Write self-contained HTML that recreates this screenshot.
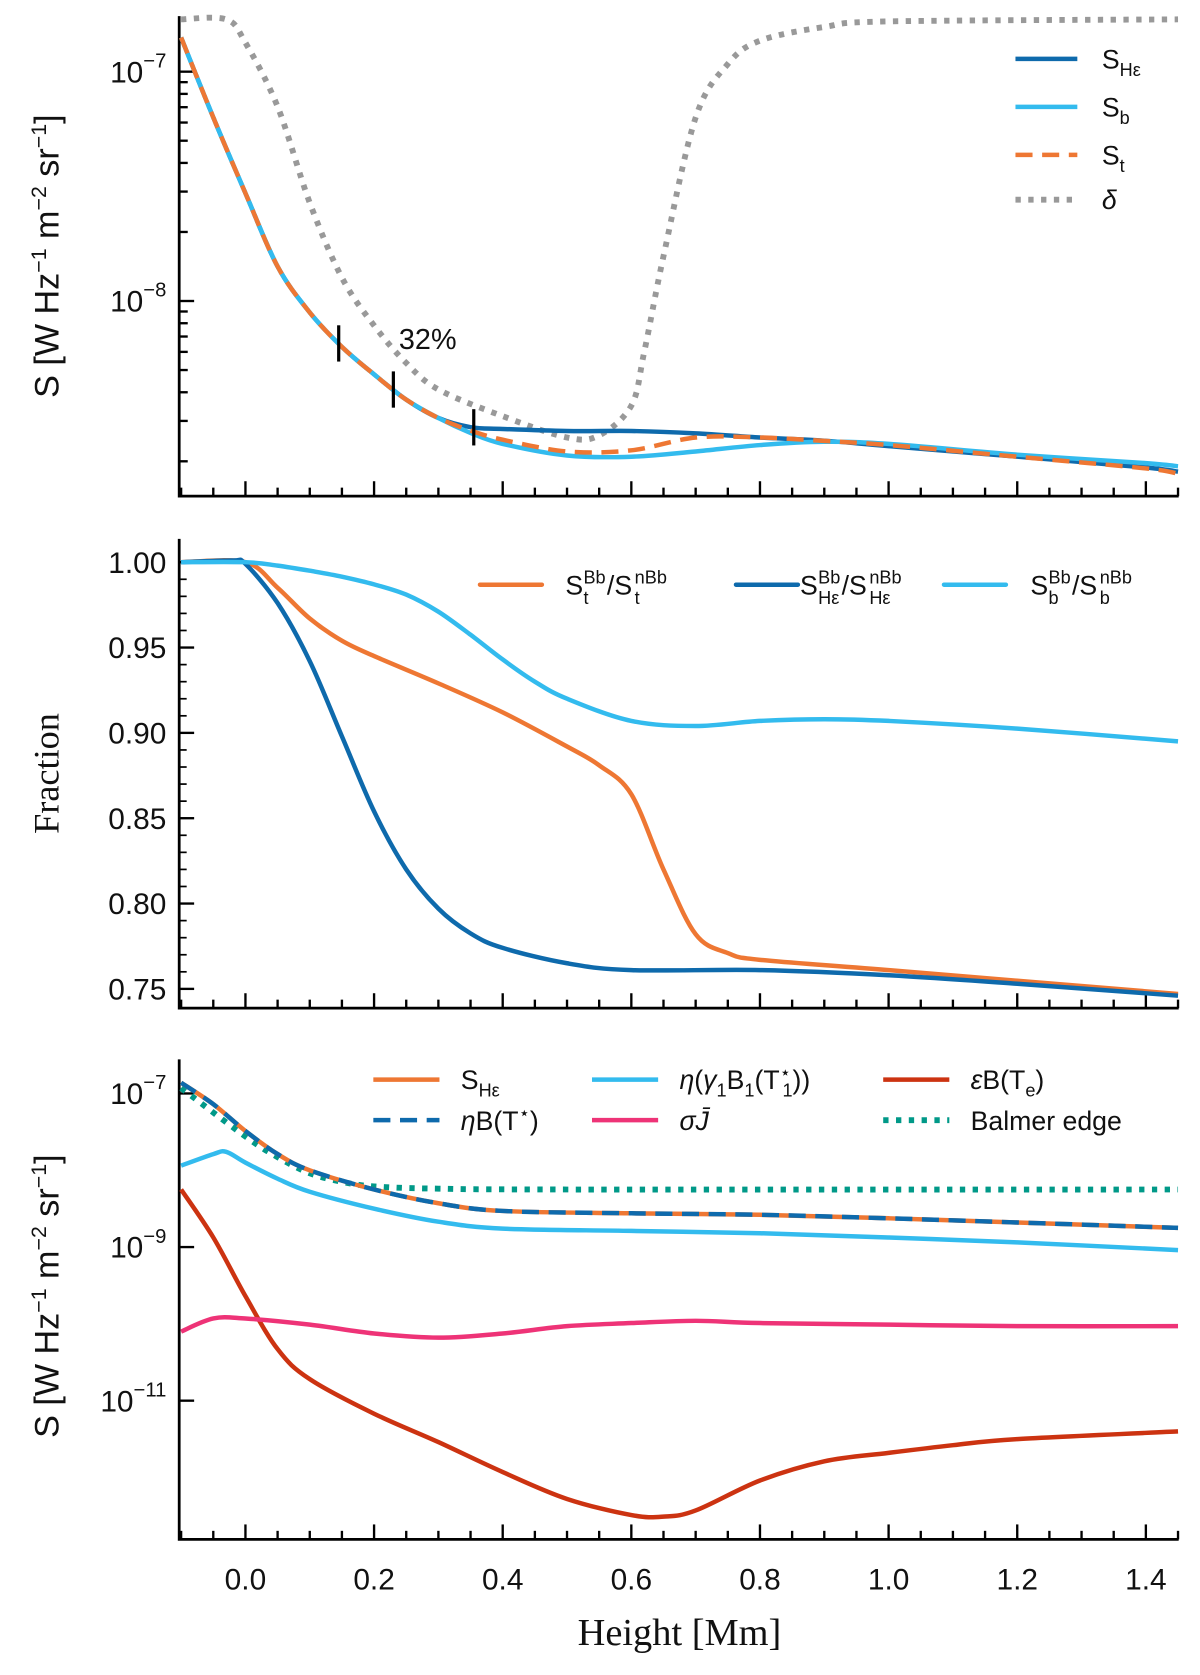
<!DOCTYPE html>
<html><head><meta charset="utf-8"><style>
html,body{margin:0;padding:0;background:#fff}
svg{display:block}
text{font-family:"Liberation Sans","DejaVu Sans",sans-serif;fill:#111}
.serif{font-family:"Liberation Serif","DejaVu Serif",serif}
</style></head><body>
<svg id="fig" width="1200" height="1675" viewBox="0 0 1125 1570" xmlns="http://www.w3.org/2000/svg"></svg>
<script>
// ---------- data ----------
const hP1 = [-0.1,-0.05,0,0.05,0.1,0.15,0.2,0.25,0.3,0.35,0.4,0.5,0.6,0.7,0.8,0.9,1.0,1.2,1.4,1.45];
const sHe1 = [-6.851,-7.2,-7.53,-7.85,-8.05,-8.20,-8.32,-8.43,-8.51,-8.55,-8.558,-8.567,-8.567,-8.577,-8.595,-8.609,-8.633,-8.679,-8.726,-8.744];
const sB1  = [-6.851,-7.2,-7.53,-7.85,-8.05,-8.20,-8.32,-8.43,-8.51,-8.575,-8.623,-8.674,-8.679,-8.656,-8.628,-8.614,-8.623,-8.670,-8.707,-8.721];
const sT1  = [-6.851,-7.2,-7.53,-7.85,-8.05,-8.20,-8.32,-8.43,-8.51,-8.565,-8.605,-8.656,-8.651,-8.595,-8.595,-8.610,-8.628,-8.679,-8.730,-8.753];
const hDelta = [-0.1,-0.03,0,0.05,0.1,0.15,0.2,0.25,0.3,0.4,0.5,0.55,0.6,0.62,0.65,0.7,0.75,0.8,0.9,1.0,1.45];
const delta = [-6.772,-6.772,-6.874,-7.153,-7.572,-7.898,-8.107,-8.270,-8.386,-8.502,-8.595,-8.586,-8.456,-8.223,-7.805,-7.2,-6.967,-6.865,-6.805,-6.781,-6.772];
const markH = [0.145,0.23,0.355];

const hOr = [-0.1,0,0.05,0.1,0.15,0.2,0.3,0.4,0.5,0.55,0.6,0.65,0.7,0.75,0.8,1.0,1.45];
const fracT = [1,1,0.985,0.967,0.954,0.945,0.929,0.912,0.892,0.881,0.864,0.82,0.782,0.771,0.767,0.761,0.747];
const hDb = [-0.1,-0.02,0,0.05,0.1,0.15,0.2,0.25,0.3,0.35,0.4,0.5,0.6,0.8,1.0,1.2,1.45];
const fracHe = [1,1.001,0.999,0.976,0.942,0.898,0.854,0.82,0.797,0.7825,0.774,0.765,0.761,0.761,0.758,0.753,0.746];
const hLb = [-0.1,0,0.05,0.1,0.15,0.2,0.25,0.3,0.35,0.4,0.45,0.5,0.6,0.7,0.8,0.9,1.0,1.2,1.45];
const fracB = [1,1,0.998,0.995,0.9915,0.987,0.981,0.971,0.9575,0.943,0.93,0.92,0.907,0.904,0.907,0.908,0.907,0.9025,0.895];

const hP3 = [-0.1,-0.05,0,0.05,0.1,0.2,0.3,0.4,0.6,0.8,1.0,1.2,1.45];
const sHe3 = [-6.86,-7.14,-7.49,-7.79,-8.0,-8.25,-8.43,-8.53,-8.56,-8.58,-8.625,-8.68,-8.75];
const hBal = [-0.1,0,0.05,0.1,0.15,0.2,0.3,0.5,1.45];
const balmer = [-6.93,-7.56,-7.83,-8.04,-8.15,-8.21,-8.24,-8.25,-8.25];
const hEta = [-0.1,-0.05,-0.03,0,0.05,0.1,0.2,0.3,0.4,0.6,0.8,1.0,1.2,1.45];
const etaG = [-7.94,-7.79,-7.76,-7.90,-8.11,-8.28,-8.5,-8.67,-8.76,-8.79,-8.82,-8.875,-8.94,-9.04];
const hSig = [-0.1,-0.05,0,0.1,0.2,0.3,0.4,0.5,0.6,0.7,0.8,1.0,1.2,1.45];
const sigJ = [-10.10,-9.93,-9.93,-10.01,-10.125,-10.18,-10.125,-10.03,-9.99,-9.96,-9.99,-10.01,-10.03,-10.03];
const hEps = [-0.1,-0.05,0,0.05,0.1,0.2,0.3,0.4,0.5,0.6,0.65,0.7,0.8,0.9,1.0,1.1,1.2,1.45];
const epsB = [-8.25,-8.875,-9.64,-10.33,-10.72,-11.17,-11.54,-11.93,-12.28,-12.49,-12.51,-12.43,-12.04,-11.79,-11.68,-11.58,-11.5,-11.40];

const xTicks = [0,0.2,0.4,0.6,0.8,1.0,1.2,1.4];
const xTickLabels = ["0.0","0.2","0.4","0.6","0.8","1.0","1.2","1.4"];
const fracTicks = [0.75,0.8,0.85,0.9,0.95,1.0];
const fracTickLabels = ["0.75","0.80","0.85","0.90","0.95","1.00"];

// ---------- layout ----------
const svg = document.getElementById('fig');
const NS = 'http://www.w3.org/2000/svg';
const X0 = 168, X1 = 1105, HMIN = -0.103, HMAX = 1.451;
const xs = h => X0 + (h - HMIN) / (HMAX - HMIN) * (X1 - X0);
const P1 = {top:15, bot:465, lmin:-8.851, lmax:-6.758};
const P2 = {top:505, bot:945, fmin:0.7387, fmax:1.0137};
const P3 = {top:993, bot:1443, lmin:-12.806, lmax:-6.556};
const y1 = v => P1.bot - (v - P1.lmin) / (P1.lmax - P1.lmin) * (P1.bot - P1.top);
const y2 = v => P2.bot - (v - P2.fmin) / (P2.fmax - P2.fmin) * (P2.bot - P2.top);
const y3 = v => P3.bot - (v - P3.lmin) / (P3.lmax - P3.lmin) * (P3.bot - P3.top);

function el(tag, attrs, parent){ const e=document.createElementNS(NS,tag); for(const k in attrs) e.setAttribute(k,attrs[k]); (parent||svg).appendChild(e); return e; }

function smoothPath(pts){
  let d = `M${pts[0][0].toFixed(1)},${pts[0][1].toFixed(1)}`;
  for(let i=0;i<pts.length-1;i++){
    const p0=pts[Math.max(0,i-1)], p1=pts[i], p2=pts[i+1], p3=pts[Math.min(pts.length-1,i+2)];
    const c1=[p1[0]+(p2[0]-p0[0])/6, p1[1]+(p2[1]-p0[1])/6];
    const c2=[p2[0]-(p3[0]-p1[0])/6, p2[1]-(p3[1]-p1[1])/6];
    d += ` C${c1[0].toFixed(1)},${c1[1].toFixed(1)} ${c2[0].toFixed(1)},${c2[1].toFixed(1)} ${p2[0].toFixed(1)},${p2[1].toFixed(1)}`;
  }
  return d;
}
function series(hArr, vArr, yf, color, extra, name){
  const pts = hArr.map((h,i)=>[xs(h), yf(vArr[i])]);
  const p = el('path', Object.assign({d:smoothPath(pts), fill:'none', stroke:color, 'stroke-width':4.2, 'stroke-linejoin':'round', 'clip-path':'url(#clipAll)'}, extra||{}));
  
  
  return p;
}
function txt(x,y,s,attrs,name){ const t=el('text',Object.assign({x,y},attrs||{})); t.innerHTML=s;   return t; }

const defs = el('defs',{});
const cp = el('clipPath',{id:'clipAll'},defs);
el('rect',{x:X0,y:0,width:X1-X0,height:1570},cp);

function axes(P, name){
  const g = el('g',{});
  
  
  el('path',{d:`M${X0},${P.top} L${X0},${P.bot} L${X1},${P.bot}`,fill:'none',stroke:'#000','stroke-width':2.6},g);
  for(let h=-0.1; h<=1.451; h+=0.05){
    const hh=Math.round(h*100)/100;
    const major = Math.abs(hh*5-Math.round(hh*5))<1e-6;
    const x=xs(hh);
    el('line',{x1:x,x2:x,y1:P.bot,y2:P.bot-(major?14:8),stroke:'#000','stroke-width':2.2},g);
  }
  return g;
}
function logYTicks(P, yf, minRange, labelDec, gname, minors){
  const g = el('g',{});
  
  
  for(let d=minRange[0]; d<=minRange[1]; d++){
    for(let m=1;m<10;m++){
      if(!minors && m>1) continue;
      if(!minors && labelDec.indexOf(d)<0) continue;
      const v = d + Math.log10(m);
      const y = yf(v);
      if(y<P.top-1||y>P.bot+1) continue;
      el('line',{x1:X0,x2:X0+(m===1?14:8),y1:y,y2:y,stroke:'#000','stroke-width':2.2},g);
    }
  }
  labelDec.forEach(d=>{
    txt(X0-12, yf(d)+10, `10<tspan dy="-14" font-size="19">−${-d}</tspan>`, {'text-anchor':'end','font-size':28}, 'y-tick-label');
  });
}
function ratioLabel(x,y,sub,sw,name){
  const g=el('g',{});
   
  const fs=25, ss=17;
  const t=(xx,yy,s,f)=>{const e=el('text',{x:xx,y:yy,'font-size':f},g); e.textContent=s; return e;};
  t(x,y,'S',fs);
  t(x+17,y-10,'Bb',ss);
  t(x+17,y+9,sub,ss);
  const x2=x+17+Math.max(22,sw);
  t(x2,y,'/S',fs);
  t(x2+26,y-10,'nBb',ss);
  t(x2+26,y+9,sub,ss);
}

// ---------- panel 1 ----------
axes(P1,'panel1');
logYTicks(P1,y1,[-9,-7],[-7,-8],'panel1-y-ticks',true);
series(hDelta, delta, y1, '#999999', {'stroke-dasharray':'5 7','stroke-width':5.5,'stroke-linecap':'butt'}, 'delta-line');
series(hP1, sHe1, y1, '#0e6aac', {}, 'S-He-line');
series(hP1, sB1, y1, '#33bbee', {}, 'S-b-line');
series(hP1, sT1, y1, '#ee7733', {'stroke-dasharray':'16 9'}, 'S-t-line');
markH.forEach((h)=>{
  let k=0; while(hP1[k+1]<h) k++;
  const f=(h-hP1[k])/(hP1[k+1]-hP1[k]);
  const v=sHe1[k]+f*(sHe1[k+1]-sHe1[k]);
  const y=y1(v);
  const l=el('line',{x1:xs(h),x2:xs(h),y1:y-17,y2:y+17,stroke:'#000','stroke-width':3});
  
  
});
txt(374,327,'32%',{'font-size':27},'percent-annotation');
[['#0e6aac',{}, 'S<tspan font-size="17" dy="7">Hε</tspan>',55],
 ['#33bbee',{}, 'S<tspan font-size="17" dy="7">b</tspan>',100],
 ['#ee7733',{'stroke-dasharray':'16 9'}, 'S<tspan font-size="17" dy="7">t</tspan>',145],
 ['#999999',{'stroke-dasharray':'5 7','stroke-width':5.5}, '<tspan font-style="italic">δ</tspan>',187]].forEach((e)=>{
  const l=el('line',Object.assign({x1:952,x2:1010,y1:e[3],y2:e[3],stroke:e[0],'stroke-width':4.2},e[1]));
   
  txt(1033,e[3]+9,e[2],{'font-size':25},'legend1-label');
});
txt(0,0,'S [W Hz<tspan dy="-12" font-size="20">−1</tspan><tspan dy="12"> m</tspan><tspan dy="-12" font-size="20">−2</tspan><tspan dy="12"> sr</tspan><tspan dy="-12" font-size="20">−1</tspan><tspan dy="12">]</tspan>',
  {'font-size':32,'text-anchor':'middle',transform:'translate(55,240) rotate(-90)'},'y-axis-title-top');

// ---------- panel 2 ----------
axes(P2,'panel2');
fracTicks.forEach((v,i)=>{
  const y=y2(v);
  el('line',{x1:X0,x2:X0+14,y1:y,y2:y,stroke:'#000','stroke-width':2.2});
  txt(X0-12,y+10,fracTickLabels[i],{'text-anchor':'end','font-size':28},'y-tick-label');
});
for(let v=0.76; v<1.01; v+=0.01){ const y=y2(v); el('line',{x1:X0,x2:X0+7,y1:y,y2:y,stroke:'#000','stroke-width':1.6}); }
series(hOr, fracT, y2, '#ee7733', {}, 'frac-t-line');
series(hDb, fracHe, y2, '#0e6aac', {}, 'frac-He-line');
series(hLb, fracB, y2, '#33bbee', {}, 'frac-b-line');
[['#ee7733',450,530,'t',10],['#0e6aac',690,750,'Hε',22],['#33bbee',885,966,'b',10]].forEach(e=>{
  const l=el('line',{x1:e[1],x2:e[1]+58,y1:548,y2:548,stroke:e[0],'stroke-width':4.2,'stroke-linecap':'round'});
   
  ratioLabel(e[2],557,e[3],e[4],'legend2-label');
});
txt(0,0,'Fraction',{'font-size':34,'text-anchor':'middle',class:'serif',transform:'translate(55,725) rotate(-90)'},'y-axis-title-middle');

// ---------- panel 3 ----------
axes(P3,'panel3');
logYTicks(P3,y3,[-13,-7],[-7,-9,-11],'panel3-y-ticks',false);
series(hBal, balmer, y3, '#009988', {'stroke-dasharray':'5 7','stroke-width':5.5}, 'balmer-edge-line');
series(hEps, epsB, y3, '#cc3311', {}, 'epsilon-B-line');
series(hSig, sigJ, y3, '#ee3377', {}, 'sigma-J-line');
series(hEta, etaG, y3, '#33bbee', {}, 'eta-gamma-B-line');
series(hP3, sHe3, y3, '#ee7733', {}, 'S-He-bottom-line');
series(hP3, sHe3, y3, '#0e6aac', {'stroke-dasharray':'16 9'}, 'eta-B-line');
[['#ee7733',{},350,1012,'S<tspan font-size="17" dy="7">Hε</tspan>'],
 ['#33bbee',{},555,1012,'<tspan font-style="italic">η</tspan>(<tspan font-style="italic">γ</tspan><tspan font-size="17" dy="7">1</tspan><tspan dy="-7">B</tspan><tspan font-size="17" dy="7">1</tspan><tspan dy="-7">(T</tspan><tspan font-size="17" dy="-10">⋆</tspan><tspan font-size="17" dx="-8" dy="17">1</tspan><tspan dy="-7">))</tspan>'],
 ['#cc3311',{},828,1012,'<tspan font-style="italic">ε</tspan>B(T<tspan font-size="17" dy="7">e</tspan><tspan dy="-7">)</tspan>'],
 ['#0e6aac',{'stroke-dasharray':'16 9'},350,1050,'<tspan font-style="italic">η</tspan>B(T<tspan font-size="17" dy="-10">⋆</tspan><tspan dy="10">)</tspan>'],
 ['#ee3377',{},555,1050,'<tspan font-style="italic">σJ̄</tspan>'],
 ['#009988',{'stroke-dasharray':'5 7','stroke-width':5.5},828,1050,'Balmer edge']].forEach(e=>{
  const l=el('line',Object.assign({x1:e[2],x2:e[2]+62,y1:e[3],y2:e[3],stroke:e[0],'stroke-width':4.2},e[1]));
   
  txt(e[2]+82,e[3]+9,e[4],{'font-size':25},'legend3-label');
});
txt(0,0,'S [W Hz<tspan dy="-12" font-size="20">−1</tspan><tspan dy="12"> m</tspan><tspan dy="-12" font-size="20">−2</tspan><tspan dy="12"> sr</tspan><tspan dy="-12" font-size="20">−1</tspan><tspan dy="12">]</tspan>',
  {'font-size':32,'text-anchor':'middle',transform:'translate(55,1215) rotate(-90)'},'y-axis-title-bottom');

xTicks.forEach((h,i)=>txt(xs(h),1490,xTickLabels[i],{'text-anchor':'middle','font-size':28},'x-tick-label'));
txt(637,1542,'Height [Mm]',{'text-anchor':'middle','font-size':36,class:'serif'},'x-axis-title');
</script>
</body></html>
